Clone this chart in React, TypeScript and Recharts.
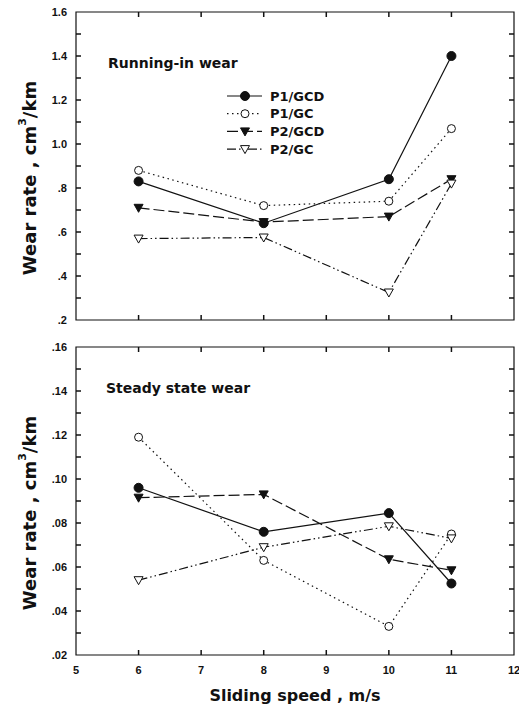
import React from "react";
import { Legend, Line, LineChart, ReferenceArea, XAxis, YAxis } from "recharts";

// sliding speed, m/s
const speeds = [6, 8, 10, 11];

// running-in wear, cm3/km
const runP1GCD = [0.83, 0.64, 0.84, 1.4];
const runP1GC = [0.88, 0.72, 0.74, 1.07];
const runP2GCD = [0.71, 0.645, 0.67, 0.84];
const runP2GC = [0.57, 0.575, 0.325, 0.82];

// steady state wear, cm3/km
const steadyP1GCD = [0.096, 0.076, 0.0845, 0.0525];
const steadyP1GC = [0.119, 0.063, 0.033, 0.075];
const steadyP2GCD = [0.0915, 0.093, 0.0635, 0.0585];
const steadyP2GC = [0.054, 0.069, 0.0785, 0.073];

const xTicks = [5, 6, 7, 8, 9, 10, 11, 12];
const runTicks = [0.2, 0.3, 0.4, 0.5, 0.6, 0.7, 0.8, 0.9, 1.0, 1.1, 1.2, 1.3, 1.4, 1.5, 1.6];
const steadyTicks = [0.02, 0.03, 0.04, 0.05, 0.06, 0.07, 0.08, 0.09, 0.1, 0.11, 0.12, 0.13, 0.14, 0.15, 0.16];

const seriesNames = ["P1/GCD", "P1/GC", "P2/GCD", "P2/GC"];

const toRows = (cols: number[][]) =>
  speeds.map((x, i) => ({ x, s0: cols[0][i], s1: cols[1][i], s2: cols[2][i], s3: cols[3][i] }));

const runRows = toRows([runP1GCD, runP1GC, runP2GCD, runP2GC]);
const steadyRows = toRows([steadyP1GCD, steadyP1GC, steadyP2GCD, steadyP2GC]);

const INK = "#111";
const BOLD = "'DejaVu Sans', sans-serif";
const TICK_FAMILY = "'Liberation Sans', Arial, sans-serif";
const X_DOMAIN: [number, number] = [5, 12];
const PLOT_W = 438;
const PLOT_H = 308;
const TICK_LEN = 5;
const TICK_W = 1.5;

const styles = [
  { dash: undefined, shape: "circle", filled: true },
  { dash: "1.5 3.5", shape: "circle", filled: false },
  { dash: "11 4", shape: "tri", filled: true },
  { dash: "9 3 1.5 3 1.5 3", shape: "tri", filled: false },
];

function Marker({ cx, cy, shape, filled }: { cx: number; cy: number; shape: string; filled: boolean }) {
  const fill = filled ? INK : "#fff";
  if (shape === "circle") {
    return <circle cx={cx} cy={cy} r={filled ? 4.5 : 4} fill={fill} stroke={INK} strokeWidth={1} />;
  }
  const pts = `${cx - 4.5},${cy - 3.5} ${cx + 4.5},${cy - 3.5} ${cx},${cy + 4.5}`;
  return <polygon points={pts} fill={fill} stroke={INK} strokeWidth={1} />;
}

const makeDot = (shape: string, filled: boolean) => (props: any) => {
  const { cx, cy, index } = props;
  if (cx == null || cy == null) return <g key={index} />;
  return (
    <g key={index}>
      <Marker cx={cx} cy={cy} shape={shape} filled={filled} />
    </g>
  );
};

const fmtRun = (v: number) => {
  if (Math.round(v * 10) % 2 !== 0) return "";
  const s = v.toFixed(1);
  return v < 1 ? s.slice(1) : s;
};
const fmtSteady = (v: number) => (Math.round(v * 100) % 2 !== 0 ? "" : v.toFixed(2).slice(1));

const makeYTick = (fmt: (v: number) => string) => (p: any) => (
  <text x={p.x} y={p.y} dy="0.36em" textAnchor="end" fontFamily={TICK_FAMILY} fontWeight="bold" fontSize={11} fill={INK}>
    {fmt(p.payload.value)}
  </text>
);

const XTick = (p: any) => (
  <text x={p.x} y={p.y} dy="0.71em" textAnchor="middle" fontFamily={TICK_FAMILY} fontWeight="bold" fontSize={11} fill={INK}>
    {p.payload.value}
  </text>
);

// inward tick marks on all four frame edges, as thin filled areas in data units
function frameTicks(domain: [number, number], ticks: number[]) {
  const [y0, y1] = domain;
  const xSpan = X_DOMAIN[1] - X_DOMAIN[0];
  const ySpan = y1 - y0;
  const lenX = (xSpan * TICK_LEN) / PLOT_W;
  const lenY = (ySpan * TICK_LEN) / PLOT_H;
  const halfX = (xSpan * TICK_W) / 2 / PLOT_W;
  const halfY = (ySpan * TICK_W) / 2 / PLOT_H;
  const boxes: [number, number, number, number][] = [];
  xTicks.slice(1, -1).forEach((x) => {
    boxes.push([x - halfX, x + halfX, y0, y0 + lenY]);
    boxes.push([x - halfX, x + halfX, y1 - lenY, y1]);
  });
  ticks.slice(1, -1).forEach((y) => {
    boxes.push([X_DOMAIN[0], X_DOMAIN[0] + lenX, y - halfY, y + halfY]);
    boxes.push([X_DOMAIN[1] - lenX, X_DOMAIN[1], y - halfY, y + halfY]);
  });
  return boxes.map(([a, b, c, d], i) => (
    <ReferenceArea
      key={`tk${i}`}
      xAxisId="b"
      yAxisId="l"
      x1={a}
      x2={b}
      y1={c}
      y2={d}
      fill={INK}
      fillOpacity={1}
      stroke="none"
      ifOverflow="visible"
    />
  ));
}

function YTitle(props: any) {
  const vb = props.viewBox || { y: 12, height: 308 };
  const x = 29;
  const cy = vb.y + vb.height / 2 + 12;
  return (
    <text
      x={x}
      y={cy}
      transform={`rotate(-90 ${x} ${cy})`}
      textAnchor="middle"
      dominantBaseline="central"
      fontFamily={BOLD}
      fontWeight="bold"
      fontSize={18}
      fill={INK}
    >
      Wear rate , cm
      <tspan dy={-7} fontSize={11}>3</tspan>
      <tspan dy={7}>/km</tspan>
    </text>
  );
}

function XTitle(props: any) {
  const vb = props.viewBox || { x: 76, y: 655, width: 438 };
  return (
    <text x={vb.x + vb.width / 2} y={vb.y + 46} textAnchor="middle" fontFamily={BOLD} fontWeight="bold" fontSize={16} fill={INK}>
      Sliding speed , m/s
    </text>
  );
}

function LegendBox() {
  return (
    <svg width={130} height={72} style={{ display: "block" }}>
      {seriesNames.map((name, i) => {
        const y = 10 + i * 17.7;
        const st = styles[i];
        return (
          <g key={name}>
            <line x1={5} x2={40} y1={y} y2={y} stroke={INK} strokeWidth={1.2} strokeDasharray={st.dash} />
            <Marker cx={23} cy={y} shape={st.shape} filled={st.filled} />
            <text x={48} y={y} dominantBaseline="central" fontFamily={BOLD} fontWeight="bold" fontSize={13} fill={INK}>
              {name}
            </text>
          </g>
        );
      })}
    </svg>
  );
}

function Panel({
  rows,
  domain,
  ticks,
  fmt,
  bottom,
}: {
  rows: any[];
  domain: [number, number];
  ticks: number[];
  fmt: (v: number) => string;
  bottom: boolean;
}) {
  const height = bottom ? 377 : 335;
  return (
    <LineChart width={527} height={height} data={rows} margin={{ top: 12, right: 13, bottom: bottom ? 0 : 14, left: 0 }}>
      <XAxis
        xAxisId="b"
        dataKey="x"
        type="number"
        domain={X_DOMAIN}
        ticks={xTicks}
        interval={0}
        allowDataOverflow
        height={bottom ? 57 : 1}
        tickSize={0}
        tickMargin={11}
        tick={bottom ? XTick : false}
        axisLine={false}
        tickLine={false}
        label={bottom ? XTitle : undefined}
      />
      <YAxis
        yAxisId="l"
        type="number"
        domain={domain}
        ticks={ticks}
        interval={0}
        allowDataOverflow
        width={76}
        tickSize={0}
        tickMargin={9}
        tick={makeYTick(fmt)}
        axisLine={false}
        tickLine={false}
        label={YTitle}
      />
      <ReferenceArea
        xAxisId="b"
        yAxisId="l"
        x1={X_DOMAIN[0]}
        x2={X_DOMAIN[1]}
        y1={domain[0]}
        y2={domain[1]}
        fill="none"
        fillOpacity={0}
        stroke={INK}
        strokeWidth={1.2}
        ifOverflow="visible"
      />
      {frameTicks(domain, ticks)}
      {styles.map((st, i) => (
        <Line
          key={i}
          xAxisId="b"
          yAxisId="l"
          dataKey={`s${i}`}
          name={seriesNames[i]}
          type="linear"
          stroke={INK}
          strokeWidth={1.2}
          strokeDasharray={st.dash}
          dot={makeDot(st.shape, st.filled)}
          activeDot={false}
          isAnimationActive={false}
        />
      ))}
      {!bottom && (
        <Legend
          layout="vertical"
          align="center"
          verticalAlign="middle"
          content={LegendBox}
          wrapperStyle={{ left: 222, top: 86, width: 130, height: 72 }}
        />
      )}
    </LineChart>
  );
}

const titleStyle: React.CSSProperties = {
  position: "absolute",
  left: 108,
  fontFamily: BOLD,
  fontWeight: "bold",
  fontSize: 14,
  lineHeight: "16px",
  color: INK,
  whiteSpace: "nowrap",
};

export default function App() {
  return (
    <div style={{ position: "relative", width: 527, height: 712, margin: -8, background: "#fff", overflow: "hidden" }}>
      <div style={{ position: "absolute", left: 0, top: 0 }}>
        <Panel rows={runRows} domain={[0.2, 1.6]} ticks={runTicks} fmt={fmtRun} bottom={false} />
      </div>
      <div style={{ position: "absolute", left: 0, top: 335 }}>
        <Panel rows={steadyRows} domain={[0.02, 0.16]} ticks={steadyTicks} fmt={fmtSteady} bottom={true} />
      </div>
      <div style={{ ...titleStyle, top: 55 }}>Running-in wear</div>
      <div style={{ ...titleStyle, left: 106, top: 380 }}>Steady state wear</div>
    </div>
  );
}
